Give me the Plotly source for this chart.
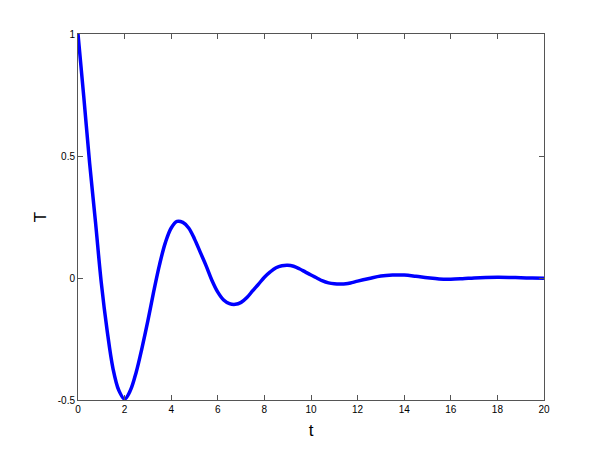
import plotly.graph_objects as go

# values
t = [0, 0.25, 0.5, 0.75, 1.0, 1.25, 1.5, 1.75, 2.0, 2.25, 2.5, 2.75, 3.0, 3.25, 3.5,
     3.75, 4.0, 4.25, 4.5, 4.75, 5.0, 5.25, 5.5, 5.75, 6.0, 6.25, 6.5, 6.75, 7.0, 7.25,
     7.5, 7.75, 8.0, 8.25, 8.5, 8.75, 9.0, 9.25, 9.5, 9.75, 10.0, 10.25, 10.5, 10.75,
     11.0, 11.25, 11.5, 11.75, 12.0, 12.5, 13.0, 13.5, 14.0, 14.5, 15.0, 15.5, 16.0,
     16.5, 17.0, 17.5, 18.0, 18.5, 19.0, 19.5, 20.0]
T = [1.0, 0.74, 0.47, 0.23, -0.02, -0.215, -0.37, -0.46, -0.496, -0.46, -0.385, -0.285,
     -0.175, -0.055, 0.055, 0.145, 0.205, 0.232, 0.228, 0.205, 0.16, 0.105, 0.05, -0.01,
     -0.058, -0.09, -0.105, -0.108, -0.1, -0.08, -0.052, -0.025, 0.003, 0.025, 0.042,
     0.05, 0.052, 0.048, 0.038, 0.025, 0.012, 0.0, -0.012, -0.02, -0.024, -0.025,
     -0.024, -0.019, -0.013, -0.002, 0.008, 0.012, 0.012, 0.007, 0.001, -0.004, -0.005,
     -0.003, 0.0, 0.002, 0.003, 0.0025, 0.001, 0.0, -0.001]

x_ticks = list(range(0, 21, 2))
y_ticks = [-0.5, 0, 0.5, 1]
y_labels = ['-0.5', '0', '0.5', '1']

fig = go.Figure()
fig.add_trace(go.Scatter(x=t, y=T, mode='lines',
                         line=dict(color='#0000FF', width=3.5, shape='spline', smoothing=1)))

ax = dict(showgrid=False, zeroline=False, showline=True, linecolor='#555555', linewidth=1,
          mirror='ticks', ticks='inside', ticklen=5, tickcolor='#555555',
          tickfont=dict(family='Liberation Sans, Arial', size=10, color='black'))

fig.update_xaxes(range=[0, 20], tickvals=x_ticks, ticktext=[str(v) for v in x_ticks],
                 title=dict(text='t', font=dict(family='Liberation Sans, Arial', size=17, color='black'),
                            standoff=10),
                 **ax)
fig.update_yaxes(range=[-0.5, 1], tickvals=y_ticks, ticktext=y_labels,
                 title=dict(text='T', font=dict(family='Liberation Sans, Arial', size=17, color='black'),
                            standoff=6),
                 **ax)
# page body adds 8px offset, margins compensate
fig.update_layout(width=600, height=450, showlegend=False,
                  plot_bgcolor='white', paper_bgcolor='white',
                  margin=dict(l=70, r=64, t=26, b=58))
fig.write_html("out.html")
